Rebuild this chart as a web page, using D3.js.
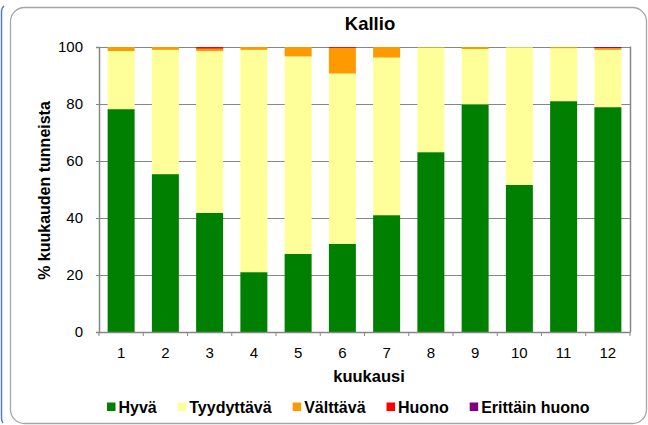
<!DOCTYPE html>
<html>
<head>
<meta charset="utf-8">
<script src="https://cdn.jsdelivr.net/npm/d3@7"></script>
<style>
  html, body { margin: 0; padding: 0; background: #fff; }
  svg { display: block; font-family: "Liberation Sans", Arial, sans-serif; }
</style>
</head>
<body>
<svg id="chart" width="648" height="425"></svg>
<script>
// Monthly share of hours per air-quality class, Kallio
const months = ["1", "2", "3", "4", "5", "6", "7", "8", "9", "10", "11", "12"];
const classes = ["Hyvä", "Tyydyttävä", "Välttävä", "Huono", "Erittäin huono"];
const colors = ["#008000", "#FFFF99", "#FF9900", "#FF0000", "#800080"];

const hyva        = [78.2, 55.4, 41.8, 21.0, 27.4, 30.9, 41.0, 63.1, 79.9, 51.6, 81.0, 78.9];
const tyydyttava  = [20.4, 43.6, 56.8, 78.0, 69.3, 59.8, 55.3, 36.7, 19.4, 48.3, 18.6, 20.1];
const valttava    = [ 1.4,  1.0,  0.8,  1.0,  3.3,  9.0,  3.7,  0.2,  0.7,  0.1,  0.4,  0.6];
const huono       = [ 0.0,  0.0,  0.6,  0.0,  0.0,  0.3,  0.0,  0.0,  0.0,  0.0,  0.0,  0.1];
const erittainHuono = [0.0, 0.0,  0.0,  0.0,  0.0,  0.0,  0.0,  0.0,  0.0,  0.0,  0.0,  0.3];

const yTicks = [0, 20, 40, 60, 80, 100];

const seriesValues = [hyva, tyydyttava, valttava, huono, erittainHuono];
const rows = months.map((m, i) => {
  const r = { month: m };
  classes.forEach((c, k) => { r[c] = seriesValues[k][i]; });
  return r;
});

const svg = d3.select("#chart");
const plot = { left: 99, right: 630, top: 47, bottom: 332 };

// outer page edge and chart frame
svg.append("path")
  .attr("d", "M1.5,12 Q1.5,8 4,6 M1.5,12 L1.5,418 Q1.5,421 3,423")
  .attr("fill", "none").attr("stroke", "#4f7fc8").attr("stroke-width", 1.5);
svg.append("rect")
  .attr("x", 10.5).attr("y", 7.5).attr("width", 636).attr("height", 416)
  .attr("rx", 14).attr("ry", 14)
  .attr("fill", "#fff").attr("stroke", "#a6a6a6").attr("stroke-width", 1.3);

const x = d3.scaleBand().domain(months).range([plot.left, plot.right]).paddingInner(0.39).paddingOuter(0.195);
const y = d3.scaleLinear().domain([0, 100]).range([plot.bottom, plot.top]);

// gridlines
svg.append("g").selectAll("line").data(yTicks.filter(t => t > 0)).join("line")
  .attr("x1", plot.left).attr("x2", plot.right)
  .attr("y1", d => Math.round(y(d)) + 0.5).attr("y2", d => Math.round(y(d)) + 0.5)
  .attr("stroke", "#868686").attr("stroke-width", 1);

// stacked bars
const stack = d3.stack().keys(classes)(rows);
svg.append("g").selectAll("g").data(stack).join("g")
  .attr("fill", (d, i) => colors[i])
  .selectAll("rect").data(d => d).join("rect")
  .attr("x", d => x(d.data.month))
  .attr("width", x.bandwidth())
  .attr("y", d => y(d[1]))
  .attr("height", d => Math.max(0, y(d[0]) - y(d[1])));

// plot frame (right side)
svg.append("line")
  .attr("x1", plot.right + 0.5).attr("x2", plot.right + 0.5)
  .attr("y1", plot.top - 0.5).attr("y2", plot.bottom)
  .attr("stroke", "#868686").attr("stroke-width", 1.5);

// y axis
const yAxis = svg.append("g").attr("transform", `translate(${plot.left},0)`)
  .call(d3.axisLeft(y).tickValues(yTicks).tickSize(3).tickPadding(13));
yAxis.select(".domain").attr("stroke", "#868686").attr("stroke-width", 1.5);
yAxis.selectAll(".tick line").attr("stroke", "#868686");
yAxis.selectAll("text").attr("font-size", 15).attr("fill", "#000")
  .attr("font-family", "Liberation Sans, Arial, sans-serif");

// x axis with ticks between categories
const xAxis = svg.append("g").attr("transform", `translate(0,${plot.bottom})`)
  .call(d3.axisBottom(x).tickSize(0).tickPadding(15));
xAxis.select(".domain").attr("stroke", "#868686").attr("stroke-width", 1.5);
xAxis.selectAll("text").attr("font-size", 15).attr("fill", "#000")
  .attr("font-family", "Liberation Sans, Arial, sans-serif");
const step = x.step();
xAxis.append("g").selectAll("line").data(d3.range(months.length + 1)).join("line")
  .attr("x1", i => plot.left + i * step).attr("x2", i => plot.left + i * step)
  .attr("y1", 0).attr("y2", 4)
  .attr("stroke", "#868686").attr("stroke-width", 1);

// titles
svg.append("text").attr("x", 370).attr("y", 30).attr("text-anchor", "middle")
  .attr("font-size", 18.5).attr("font-weight", "bold").text("Kallio");
svg.append("text").attr("x", 369).attr("y", 382).attr("text-anchor", "middle")
  .attr("font-size", 16.5).attr("font-weight", "bold").text("kuukausi");
svg.append("text").attr("transform", `translate(50,${(plot.top + plot.bottom) / 2 + 1}) rotate(-90)`)
  .attr("text-anchor", "middle")
  .attr("font-size", 16).attr("font-weight", "bold").text("% kuukauden tunneista");

// legend: swatch, label, fixed gap to the next entry
const legend = svg.append("g").attr("transform", "translate(0,413)");
const items = legend.selectAll("g").data(classes).join("g");
items.append("rect").attr("x", 0).attr("y", -10.5).attr("width", 8.5).attr("height", 8.5)
  .attr("fill", (d, i) => colors[i]);
items.append("text").attr("x", 11.5).attr("y", 0)
  .attr("font-size", 16).attr("font-weight", "bold").text(d => d);
const widths = [];
items.each(function () { widths.push(this.querySelector("text").getComputedTextLength() + 11.5); });
const gap = 21;
let cx = 107;
items.attr("transform", (d, i) => {
  const t = `translate(${cx},0)`;
  cx += widths[i] + gap;
  return t;
});
</script>
</body>
</html>
